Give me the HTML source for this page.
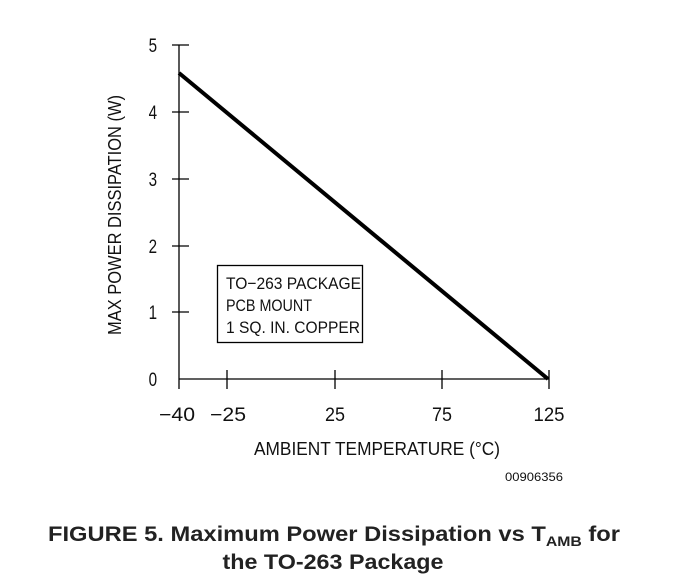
<!DOCTYPE html>
<html><head><meta charset="utf-8"><style>
html,body{margin:0;padding:0;background:#fff;width:673px;height:587px;overflow:hidden}
</style></head><body>
<svg width="673" height="587" viewBox="0 0 673 587" xmlns="http://www.w3.org/2000/svg">
<g stroke="#000" stroke-width="1.3" fill="none">
<line x1="179" y1="45" x2="179" y2="389"/>
<line x1="179" y1="379" x2="549" y2="379"/>
<line x1="172" y1="45" x2="189" y2="45"/>
<line x1="172" y1="112" x2="189" y2="112"/>
<line x1="172" y1="179" x2="189" y2="179"/>
<line x1="172" y1="246" x2="189" y2="246"/>
<line x1="172" y1="312" x2="189" y2="312"/>
<line x1="227" y1="370" x2="227" y2="389"/>
<line x1="335" y1="370" x2="335" y2="389"/>
<line x1="442" y1="370" x2="442" y2="389"/>
<line x1="549" y1="370" x2="549" y2="389"/>
<rect x="217.5" y="265.5" width="145" height="77"/>
</g>
<line x1="179" y1="73" x2="548" y2="379" stroke="#000" stroke-width="4"/>
<g font-family="Liberation Sans, sans-serif" font-size="19" fill="#111">
<g transform="scale(0.8,1)">
<text x="191" y="52" text-anchor="middle">5</text>
<text x="191" y="119" text-anchor="middle">4</text>
<text x="191" y="186" text-anchor="middle">3</text>
<text x="191" y="253" text-anchor="middle">2</text>
<text x="191" y="319" text-anchor="middle">1</text>
<text x="191" y="386" text-anchor="middle">0</text>
</g>
<text x="177" y="421" text-anchor="middle" textLength="36" lengthAdjust="spacingAndGlyphs">−40</text>
<text x="228" y="421" text-anchor="middle" textLength="36" lengthAdjust="spacingAndGlyphs">−25</text>
<text x="335" y="421" text-anchor="middle" textLength="20" lengthAdjust="spacingAndGlyphs">25</text>
<text x="442" y="421" text-anchor="middle" textLength="20" lengthAdjust="spacingAndGlyphs">75</text>
<text x="549" y="421" text-anchor="middle" textLength="31" lengthAdjust="spacingAndGlyphs">125</text>
<text x="254" y="455" font-size="18" textLength="246" lengthAdjust="spacingAndGlyphs">AMBIENT TEMPERATURE (°C)</text>
<text transform="translate(121,215) rotate(-90)" font-size="18" text-anchor="middle" textLength="240" lengthAdjust="spacingAndGlyphs">MAX POWER DISSIPATION (W)</text>
<text x="226" y="289" font-size="17" textLength="135" lengthAdjust="spacingAndGlyphs">TO−263 PACKAGE</text>
<text x="226" y="311" font-size="17" textLength="86" lengthAdjust="spacingAndGlyphs">PCB MOUNT</text>
<text x="226" y="333" font-size="17" textLength="134" lengthAdjust="spacingAndGlyphs">1 SQ. IN. COPPER</text>
<text x="505" y="481" font-size="12" textLength="58" lengthAdjust="spacingAndGlyphs">00906356</text>
</g>
<g font-family="Liberation Sans, sans-serif" font-weight="bold" font-size="21" fill="#222">
<text x="48" y="541" textLength="572" lengthAdjust="spacingAndGlyphs">FIGURE 5. Maximum Power Dissipation vs T<tspan font-size="14" dy="5">AMB</tspan><tspan dy="-5"> for</tspan></text>
<text x="333" y="569" text-anchor="middle" textLength="221" lengthAdjust="spacingAndGlyphs">the TO-263 Package</text>
</g>
</svg>
</body></html>
